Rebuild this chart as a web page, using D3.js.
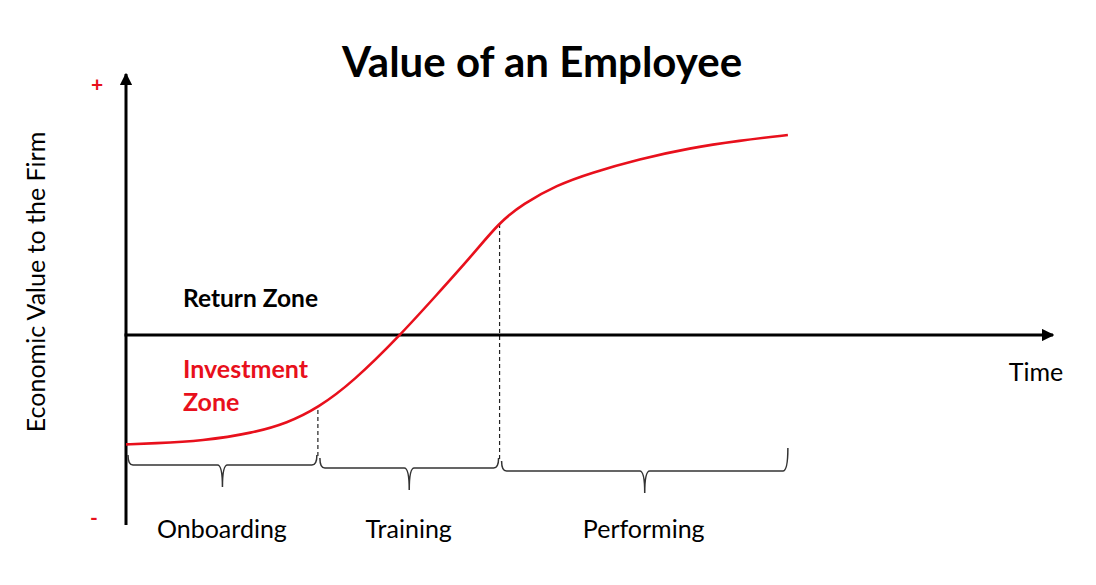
<!DOCTYPE html>
<html>
<head>
<meta charset="utf-8">
<script src="https://cdn.jsdelivr.net/npm/d3@7"></script>
<style>
  html, body { margin: 0; padding: 0; background: #fff; }
  svg { display: block; font-family: Lato, "Open Sans", sans-serif; }
</style>
</head>
<body>
<svg id="chart" width="1096" height="585"></svg>
<script>
// ---- data ----
const curveTime  = [0, 2.9, 8.3, 13.7, 17.4, 20.7, 24.5, 29.6, 33.5, 37.1, 40.3, 42.8, 46.5, 50.1, 55.4, 60.8, 66.2, 71.4];
const curveValue = [-54.7, -54.2, -52.9, -49, -44, -36.5, -23.4, 0, 20, 38.5, 56.5, 65.5, 75, 81, 88, 93.5, 97.2, 100];
const phaseNames = ["Onboarding", "Training", "Performing"];
const phaseStart = [0, 20.7, 40.3];
const phaseEnd   = [20.7, 40.3, 71.4];
const braceLevel = [-65, -66.5, -68];
const zoneLabels = ["Return Zone", "Investment", "Zone"];

// ---- scales ----
const svg = d3.select("#chart");
const x = d3.scaleLinear().domain([0, 100]).range([126, 1053]);
const y = d3.scaleLinear().domain([-95, 131.5]).range([525, 72]);
const RED = "#e8101c";

const defs = svg.append("defs");
defs.append("marker").attr("id", "arrow")
  .attr("viewBox", "0 0 10 10").attr("refX", 9).attr("refY", 5)
  .attr("markerWidth", 4.2).attr("markerHeight", 4.2).attr("orient", "auto")
  .attr("markerUnits", "strokeWidth")
  .append("path").attr("d", "M0,0 L10,5 L0,10 Z").attr("fill", "#000");

// title
svg.append("text").attr("x", 542).attr("y", 77).attr("text-anchor", "middle")
  .attr("font-size", 42).attr("font-weight", "bold").attr("fill", "#000")
  .text("Value of an Employee");

// y axis label
svg.append("text").attr("transform", `translate(45,${282}) rotate(-90)`)
  .attr("text-anchor", "middle").attr("font-size", 25).attr("fill", "#000")
  .text("Economic Value to the Firm");

// +/- markers
svg.append("text").attr("x", 97).attr("y", y(125) + 7).attr("text-anchor", "middle")
  .attr("font-size", 21).attr("font-weight", "bold").attr("fill", RED).text("+");
svg.append("text").attr("x", 94).attr("y", y(-92) + 6).attr("text-anchor", "middle")
  .attr("font-size", 21).attr("font-weight", "bold").attr("fill", RED).text("-");

// curve path (drawn later, used to find dashed-line tops)
const pts = curveTime.map((t, i) => [t, curveValue[i]]);
const lineGen = d3.line().x(d => x(d[0])).y(d => y(d[1])).curve(d3.curveBasis);

// dashed phase boundaries
const interp = t => {
  const i = d3.bisectLeft(curveTime, t);
  return i < curveValue.length ? curveValue[i] : curveValue[curveValue.length - 1];
};
[1, 2].forEach(i => {
  const t = phaseStart[i];
  svg.append("line")
    .attr("x1", x(t)).attr("x2", x(t))
    .attr("y1", y(interp(t)) + 2).attr("y2", y(braceLevel[i]) - 10)
    .attr("stroke", "#222").attr("stroke-width", 1.2).attr("stroke-dasharray", "4,3");
});

// axes
svg.append("line").attr("x1", x(0)).attr("x2", x(0))
  .attr("y1", y(-95)).attr("y2", y(131.5) + 2)
  .attr("stroke", "#000").attr("stroke-width", 3).attr("marker-end", "url(#arrow)");
svg.append("line").attr("x1", x(0) - 1.5).attr("x2", x(100))
  .attr("y1", y(0)).attr("y2", y(0))
  .attr("stroke", "#000").attr("stroke-width", 3).attr("marker-end", "url(#arrow)");

// curve
svg.append("path").datum(pts)
  .attr("d", lineGen)
  .attr("fill", "none").attr("stroke", RED).attr("stroke-width", 2.6);

// braces
function bracePath(x1, x2, yb, d, h1, h2) {
  const xm = (x1 + x2) / 2, q = 5;
  return `M${x1},${yb - h1} Q${x1},${yb} ${x1 + q},${yb} L${xm - q},${yb} ` +
         `Q${xm},${yb} ${xm},${yb + d} Q${xm},${yb} ${xm + q},${yb} ` +
         `L${x2 - q},${yb} Q${x2},${yb} ${x2},${yb - h2}`;
}
phaseNames.forEach((name, i) => {
  const x1 = x(phaseStart[i]) + 2;
  const x2 = x(phaseEnd[i]) - (i === 2 ? 0 : 1);
  const yb = y(braceLevel[i]);
  svg.append("path")
    .attr("d", bracePath(x1, x2, yb, 22, 10, i === 2 ? 23 : 10))
    .attr("fill", "none").attr("stroke", "#333").attr("stroke-width", 1.5);
  svg.append("text").attr("x", (x(phaseStart[i]) + x(phaseEnd[i])) / 2).attr("y", 538)
    .attr("text-anchor", "middle").attr("font-size", 25).attr("fill", "#000").text(name);
});

// zone labels
svg.append("text").attr("x", 183).attr("y", 307).attr("font-size", 24.5)
  .attr("font-weight", "bold").attr("fill", "#000").text(zoneLabels[0]);
svg.append("text").attr("x", 183).attr("y", 378).attr("font-size", 25)
  .attr("font-weight", "bold").attr("fill", RED).text(zoneLabels[1]);
svg.append("text").attr("x", 183).attr("y", 411).attr("font-size", 25)
  .attr("font-weight", "bold").attr("fill", RED).text(zoneLabels[2]);

// time label
svg.append("text").attr("x", 1036).attr("y", 381).attr("text-anchor", "middle")
  .attr("font-size", 25).attr("fill", "#000").text("Time");
</script>
</body>
</html>
